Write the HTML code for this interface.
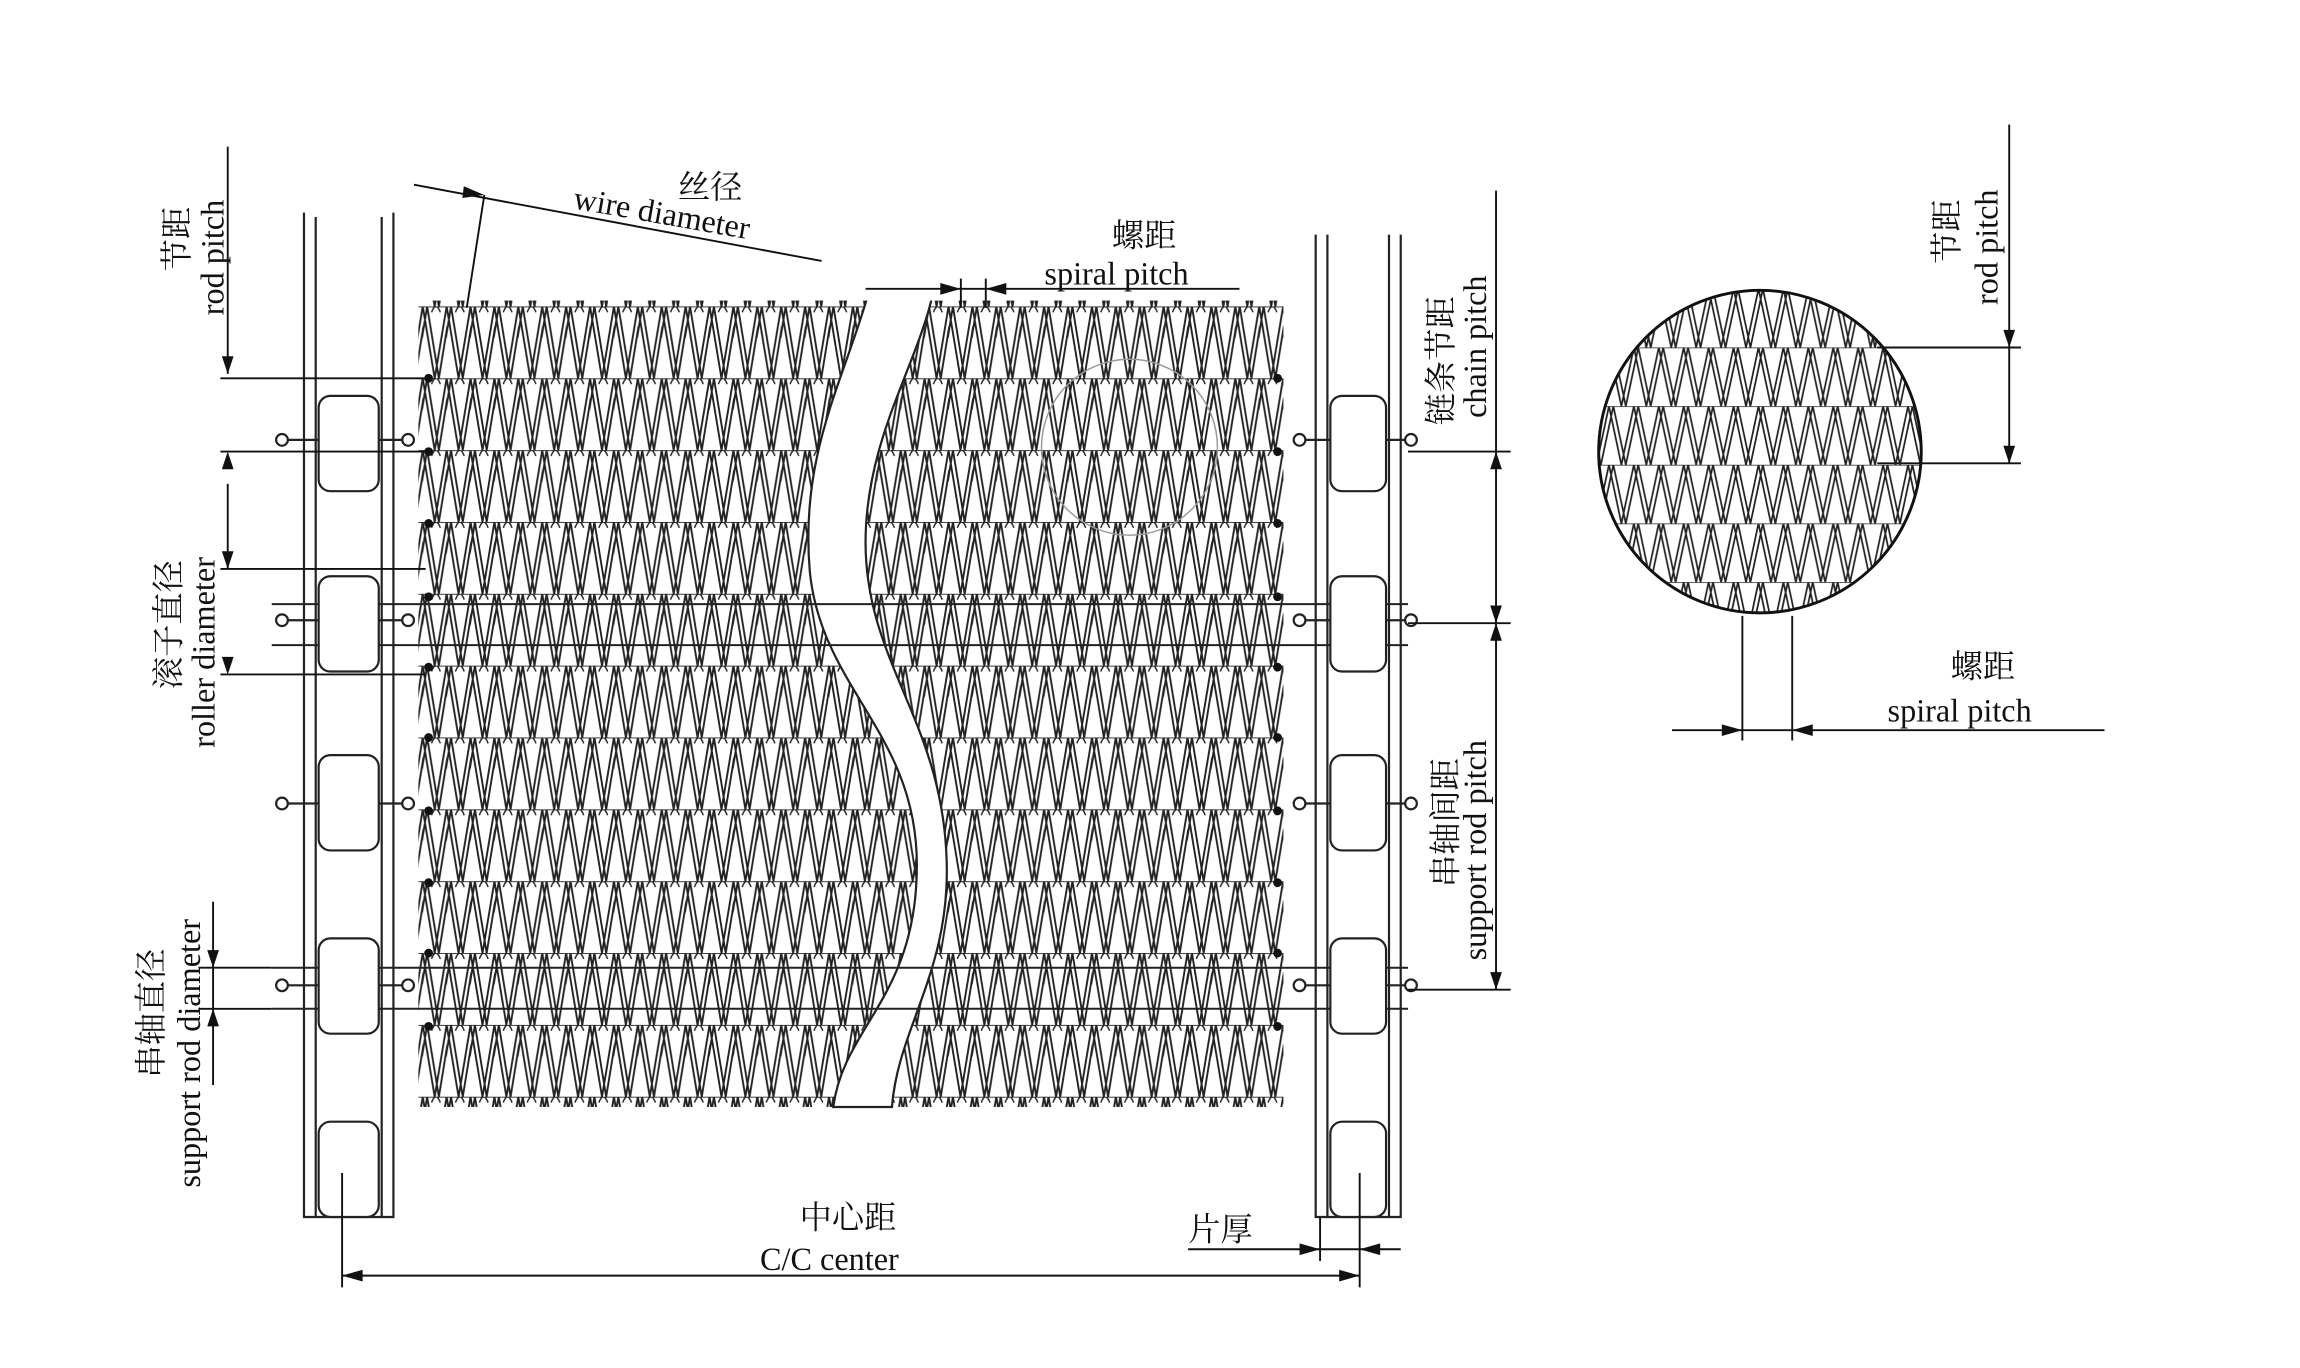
<!DOCTYPE html>
<html><head><meta charset="utf-8"><style>
html,body{margin:0;padding:0;background:#fff;}
svg{display:block;}
text{font-family:"Liberation Serif","Noto Serif CJK SC",serif;fill:#111;}
</style></head><body>
<svg width="2300" height="1368" viewBox="0 0 1568 933" xmlns="http://www.w3.org/2000/svg">
<rect width="1568" height="933" fill="#fff"/>
<defs>
<pattern id="mp" patternUnits="userSpaceOnUse" x="288" y="258" width="16.3" height="49">
<path d="M0,0 L8.15,49 L16.3,0 M3,0 L11,49 M-5,49 L3,0 M11,49 L19,0" stroke="#222" stroke-width="1.3" fill="none"/>
<path d="M0,0 H16.3" stroke="#222" stroke-width="1.2"/>
<path d="M6,4 q3,-8 6,0" stroke="#222" stroke-width="1" fill="none"/>
</pattern>
<pattern id="dp" patternUnits="userSpaceOnUse" x="1080" y="237" width="17" height="40">
<path d="M0,0 L8.5,40 L17,0 M3,0 L11.5,40 L20,0 M-5.5,40 L3,0" stroke="#222" stroke-width="1.2" fill="none"/>
<path d="M0,0 H17" stroke="#222" stroke-width="1.1"/>
</pattern>
</defs>
<!-- mesh -->
<rect x="285" y="205" width="590" height="550" fill="url(#mp)"/>
<g fill="#111">
<circle cx="292" cy="258" r="3"/><circle cx="292" cy="308" r="3"/><circle cx="292" cy="357" r="3"/><circle cx="292" cy="407" r="3"/><circle cx="292" cy="455" r="3"/><circle cx="292" cy="503" r="3"/><circle cx="292" cy="553" r="3"/><circle cx="292" cy="602" r="3"/><circle cx="292" cy="650" r="3"/><circle cx="292" cy="700" r="3"/>
<circle cx="871" cy="258" r="3"/><circle cx="871" cy="308" r="3"/><circle cx="871" cy="357" r="3"/><circle cx="871" cy="407" r="3"/><circle cx="871" cy="455" r="3"/><circle cx="871" cy="503" r="3"/><circle cx="871" cy="553" r="3"/><circle cx="871" cy="602" r="3"/><circle cx="871" cy="650" r="3"/><circle cx="871" cy="700" r="3"/>
</g>
<!-- S gap -->
<path d="M592,200 C575,260 545,310 552,390 C560,470 625,500 625,590 C625,680 575,700 568,755 L608,755 C612,700 650,660 645,580 C640,490 590,450 590,370 C590,300 625,250 636,200 Z" fill="#fff" stroke="#222" stroke-width="1.5"/>
<rect x="585" y="195" width="60" height="10" fill="#fff"/>
<!-- rods -->
<g stroke="#222" stroke-width="1.4" fill="none">
<line x1="185" y1="412" x2="960" y2="412"/><line x1="185" y1="440" x2="960" y2="440"/>
<line x1="185" y1="660" x2="960" y2="660"/><line x1="185" y1="688" x2="960" y2="688"/>
</g>
<!-- chains -->
<g stroke="#222" stroke-width="1.5" fill="#fff">
<path d="M207,145 V830 H268 V145" fill="none"/><line x1="215" y1="148" x2="215" y2="830"/><line x1="260" y1="148" x2="260" y2="830"/>
<line x1="192" y1="300" x2="280" y2="300"/><line x1="192" y1="423" x2="280" y2="423"/><line x1="192" y1="548" x2="280" y2="548"/><line x1="192" y1="672" x2="280" y2="672"/>
<rect x="217" y="270" width="41" height="65" rx="8"/><rect x="217" y="393" width="41" height="65" rx="8"/><rect x="217" y="515" width="41" height="65" rx="8"/><rect x="217" y="640" width="41" height="65" rx="8"/><rect x="217" y="765" width="41" height="65" rx="8"/>
<circle cx="192" cy="300" r="4"/><circle cx="192" cy="423" r="4"/><circle cx="192" cy="548" r="4"/><circle cx="192" cy="672" r="4"/>
<circle cx="278" cy="300" r="4"/><circle cx="278" cy="423" r="4"/><circle cx="278" cy="548" r="4"/><circle cx="278" cy="672" r="4"/>
<path d="M897,160 V830 H955 V160" fill="none"/><line x1="905" y1="160" x2="905" y2="830"/><line x1="947" y1="160" x2="947" y2="830"/>
<line x1="885" y1="300" x2="965" y2="300"/><line x1="885" y1="423" x2="965" y2="423"/><line x1="885" y1="548" x2="965" y2="548"/><line x1="885" y1="672" x2="965" y2="672"/>
<rect x="907" y="270" width="38" height="65" rx="8"/><rect x="907" y="393" width="38" height="65" rx="8"/><rect x="907" y="515" width="38" height="65" rx="8"/><rect x="907" y="640" width="38" height="65" rx="8"/><rect x="907" y="765" width="38" height="65" rx="8"/>
<circle cx="886" cy="300" r="4"/><circle cx="886" cy="423" r="4"/><circle cx="886" cy="548" r="4"/><circle cx="886" cy="672" r="4"/>
<circle cx="962" cy="300" r="4"/><circle cx="962" cy="423" r="4"/><circle cx="962" cy="548" r="4"/><circle cx="962" cy="672" r="4"/>
</g>
<!-- dimension lines -->
<g stroke="#111" stroke-width="1.3" fill="none">
<line x1="155" y1="100" x2="155" y2="255"/><line x1="150" y1="258" x2="290" y2="258"/><line x1="150" y1="308" x2="290" y2="308"/>
<line x1="155" y1="330" x2="155" y2="388"/><line x1="150" y1="388" x2="290" y2="388"/><line x1="150" y1="460" x2="290" y2="460"/>
<line x1="145" y1="615" x2="145" y2="740"/><line x1="135" y1="660" x2="185" y2="660"/><line x1="135" y1="688" x2="185" y2="688"/>
<line x1="282" y1="126" x2="560" y2="178"/><line x1="330" y1="133" x2="318" y2="210"/>
<line x1="590" y1="197" x2="845" y2="197"/><line x1="655" y1="190" x2="655" y2="210"/><line x1="672" y1="190" x2="672" y2="210"/>
<line x1="960" y1="308" x2="1030" y2="308"/><line x1="1020" y1="130" x2="1020" y2="425"/><line x1="960" y1="425" x2="1030" y2="425"/>
<line x1="1020" y1="425" x2="1020" y2="675"/><line x1="960" y1="675" x2="1030" y2="675"/>
<line x1="233" y1="800" x2="233" y2="878"/><line x1="927" y1="800" x2="927" y2="878"/><line x1="233" y1="870" x2="927" y2="870"/>
<line x1="810" y1="852" x2="955" y2="852"/><line x1="900" y1="830" x2="900" y2="860"/>
<circle cx="770" cy="305" r="60" stroke="#999" stroke-width="1"/>
<line x1="1370" y1="85" x2="1370" y2="316"/><line x1="1280" y1="237" x2="1378" y2="237"/><line x1="1280" y1="316" x2="1378" y2="316"/>
<line x1="1188" y1="420" x2="1188" y2="505"/><line x1="1222" y1="420" x2="1222" y2="505"/><line x1="1140" y1="498" x2="1435" y2="498"/>
</g>
<g fill="#111">
<path d="M155,255 l-4,-12 h8z"/><path d="M155,308 l-4,12 h8z"/><path d="M155,388 l-4,-12 h8z"/><path d="M155,460 l-4,-12 h8z"/>
<path d="M145,660 l-4,-12 h8z"/><path d="M145,688 l-4,12 h8z"/>
<path d="M1020,308 l-4,12 h8z"/><path d="M1020,425 l-4,-12 h8z"/><path d="M1020,425 l-4,12 h8z"/><path d="M1020,675 l-4,-12 h8z"/>
<path d="M233,870 l14,-4 v8z"/><path d="M927,870 l-14,-4 v8z"/>
<path d="M900,852 l-14,-4 v8z"/><path d="M927,852 l14,-4 v8z"/>
<path d="M655,197 l-14,-4 v8z"/><path d="M672,197 l14,-4 v8z"/>
<path d="M330,133 l-14,-6 l-1,8z"/>
<path d="M1370,237 l-4,-12 h8z"/><path d="M1370,316 l-4,-12 h8z"/>
<path d="M1188,498 l-14,-4 v8z"/><path d="M1222,498 l14,-4 v8z"/>
</g>
<!-- detail circle -->
<circle cx="1200" cy="308" r="110" fill="url(#dp)" stroke="#111" stroke-width="2"/>
<!-- labels -->
<text x="462" y="135" font-size="22">丝径</text>
<text x="390" y="142" font-size="22" transform="rotate(10 390 142)">wire diameter</text>
<text x="758" y="168" font-size="22">螺距</text>
<text x="712" y="194" font-size="22">spiral pitch</text>
<text x="545" y="838" font-size="22">中心距</text>
<text x="518" y="866" font-size="22">C/C center</text>
<text x="810" y="846" font-size="22">片厚</text>
<text x="1330" y="462" font-size="22">螺距</text>
<text x="1287" y="492" font-size="22">spiral pitch</text>
<g font-size="22">
<text transform="translate(128,185) rotate(-90)">节距</text>
<text transform="translate(152,215) rotate(-90)">rod pitch</text>
<text transform="translate(122,470) rotate(-90)">滚子直径</text>
<text transform="translate(146,510) rotate(-90)">roller diameter</text>
<text transform="translate(110,735) rotate(-90)">串轴直径</text>
<text transform="translate(136,810) rotate(-90)">support rod diameter</text>
<text transform="translate(990,290) rotate(-90)">链条节距</text>
<text transform="translate(1013,285) rotate(-90)">chain pitch</text>
<text transform="translate(993,605) rotate(-90)">串轴间距</text>
<text transform="translate(1013,655) rotate(-90)">support rod pitch</text>
<text transform="translate(1335,180) rotate(-90)">节距</text>
<text transform="translate(1362,208) rotate(-90)">rod pitch</text>
</g>
</svg>
</body></html>
